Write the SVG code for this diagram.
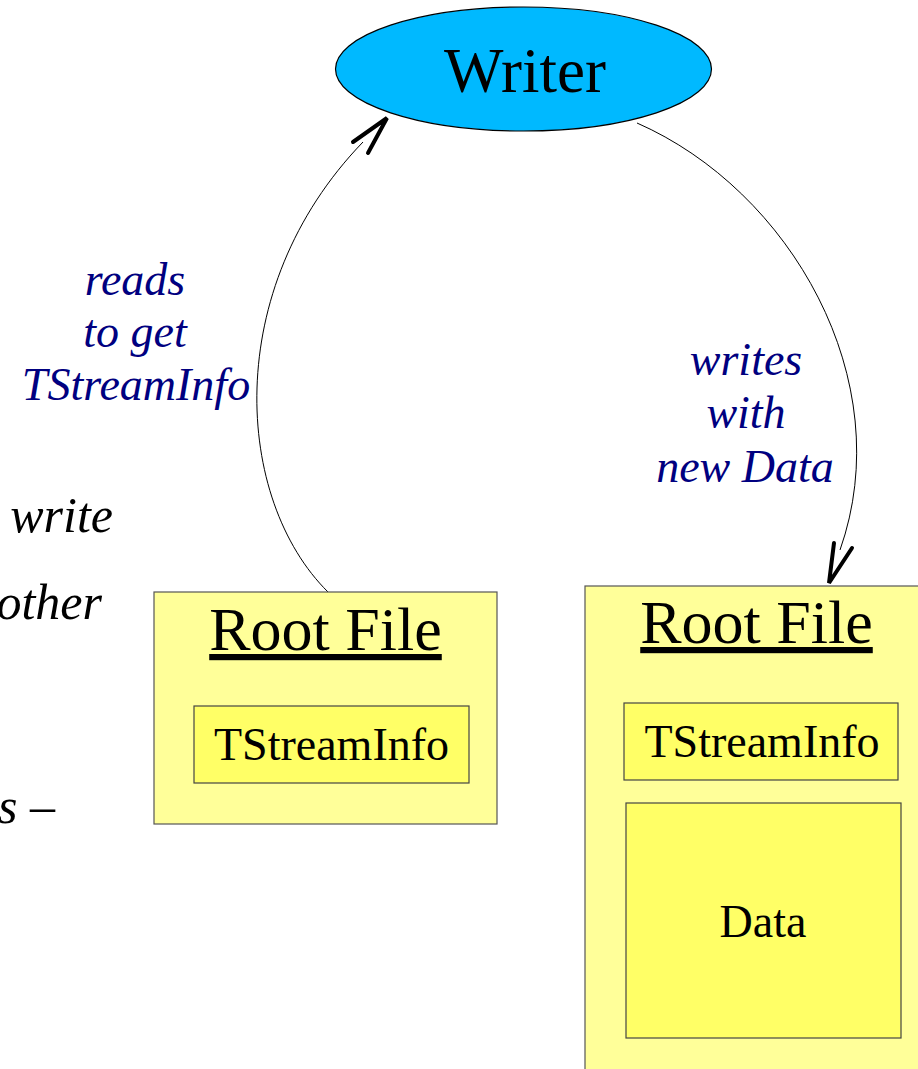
<svg xmlns="http://www.w3.org/2000/svg" width="918" height="1069" viewBox="0 0 918 1069">
<style>
  .serif { font-family: "Liberation Serif", "Times New Roman", serif; }
  .outer { fill: #ffff99; stroke: #555555; stroke-width: 1.2; }
  .inner { fill: #ffff66; stroke: #444444; stroke-width: 1.2; }
  .title { font-size: 62px; fill: #000; text-anchor: middle; text-decoration: underline; }
  .lbl { font-size: 46px; fill: #000; text-anchor: middle; }
  .edge { font-size: 46px; font-style: italic; fill: #000080; text-anchor: middle; }
  .side { font-size: 50px; font-style: italic; fill: #000; text-anchor: end; }
  .conn { fill: none; stroke: #000; stroke-width: 1; }
  .head { fill: none; stroke: #000; stroke-width: 4; stroke-linecap: round; stroke-linejoin: miter; }
</style>
<rect width="918" height="1069" fill="#ffffff"/>

<g id="side-text" class="serif">
  <text class="side" x="113" y="532">write</text>
  <text class="side" x="102" y="619">other</text>
  <text class="side" x="55" y="823">s –</text>
</g>

<g id="connectors">
  <path class="conn" d="M328,592 C235,500 220,290 363,142"/>
  <polyline class="head" points="353,142 387,118 368,153"/>
  <path class="conn" d="M637,123 C790,190 900,380 840,550"/>
  <polyline class="head" points="834,543 829,583 852,548"/>
  <g class="serif">
    <text class="edge" x="135" y="295">reads</text>
    <text class="edge" x="135" y="347">to get</text>
    <text class="edge" x="136" y="400">TStreamInfo</text>
    <text class="edge" x="746" y="375">writes</text>
    <text class="edge" x="746" y="428">with</text>
    <text class="edge" x="745" y="482">new Data</text>
  </g>
</g>

<g id="writer">
  <ellipse cx="523.5" cy="69" rx="188" ry="62" fill="#00b9ff" stroke="#000" stroke-width="1.2"/>
  <text class="serif" x="525" y="92" font-size="63" text-anchor="middle" fill="#000">Writer</text>
</g>

<g id="rootfile-left">
  <rect class="outer" x="154" y="592" width="343" height="232"/>
  <text class="serif title" x="325.5" y="650">Root File</text>
  <g id="tstreaminfo-left">
    <rect class="inner" x="194" y="706" width="275" height="77"/>
    <text class="serif lbl" x="331.5" y="760">TStreamInfo</text>
  </g>
</g>

<g id="rootfile-right">
  <rect class="outer" x="585" y="586" width="345" height="500"/>
  <text class="serif title" x="756.5" y="643">Root File</text>
  <g id="tstreaminfo-right">
    <rect class="inner" x="624" y="703" width="274" height="77"/>
    <text class="serif lbl" x="762" y="757">TStreamInfo</text>
  </g>
  <g id="data">
    <rect class="inner" x="626" y="803" width="275" height="235"/>
    <text class="serif lbl" x="763" y="937">Data</text>
  </g>
</g>
</svg>
